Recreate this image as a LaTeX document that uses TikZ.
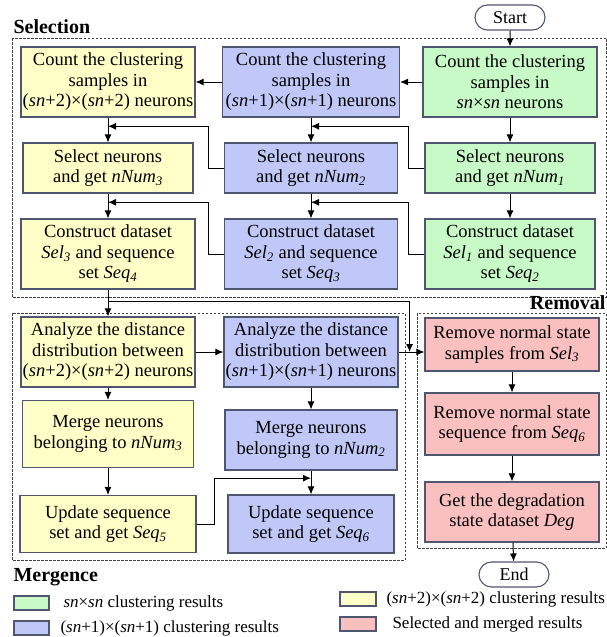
\documentclass[tikz,border=0pt]{standalone}
\usepackage{fontspec}
\setmainfont{Liberation Serif}
\usetikzlibrary{shapes,arrows.meta,calc}
\definecolor{ybox}{RGB}{255,255,200}
\definecolor{bbox}{RGB}{192,200,248}
\definecolor{gbox}{RGB}{200,250,200}
\definecolor{rbox}{RGB}{250,192,192}
\definecolor{boxline}{RGB}{80,86,112}
\tikzstyle{stage} = [draw=boxline, line width=1.1pt, align=center, minimum width=174pt, inner sep=1pt, font=\fontsize{18.5}{20.5}\selectfont]
\tikzstyle{tall} = [stage, minimum height=70pt]
\tikzstyle{short} = [stage, minimum height=50pt]
\tikzstyle{terminal} = [draw=boxline, line width=1.1pt, rounded rectangle, minimum width=72pt, minimum height=25pt, inner sep=1pt, font=\fontsize{18}{20}\selectfont]
\tikzstyle{phase} = [draw=black!75, dash pattern=on 2.5pt off 1.5pt, line width=0.7pt]
\tikzstyle{swatch} = [draw=boxline, line width=1.1pt]
\tikzstyle{caption} = [font=\fontsize{17}{19}\selectfont, anchor=west, inner sep=0pt]
\tikzstyle{heading} = [inner sep=0pt, font=\fontsize{20}{22}\selectfont\bfseries]
\newcommand{\ix}[1]{\textsubscript{\itshape #1}}

\begin{document}
\begin{tikzpicture}[x=1pt,y=-1pt,->,>={Latex[length=8pt,width=7pt]},line width=1pt,node distance=86pt]
\useasboundingbox (0,0) rectangle (607,637);

% phase frames
\draw[phase,-] (12,38) rectangle (606,297);
\draw[phase,-] (12,313) rectangle (405,560);
\draw[phase,-] (417,313) rectangle (606,548);
\node[heading, anchor=base west] (selname) at (13,33) {Selection};
\node[heading, anchor=base west] (mrgname) at (13,581) {Mergence};
\node[heading, anchor=base east] (remname) at (606,309) {Removal};

% selection
\node[terminal] (start) at (510,17.5) {Start};
\node[tall, fill=gbox] (g1) at (510,82) {Count the clustering\\samples in\\\textit{sn}×\textit{sn} neurons};
\node[tall, fill=bbox, left of=g1, node distance=199pt, minimum width=177pt] (b1) {Count the clustering\\samples in\\(\textit{sn}+1)×(\textit{sn}+1) neurons};
\node[tall, fill=ybox, left of=b1, node distance=203pt] (y1) {Count the clustering\\samples in\\(\textit{sn}+2)×(\textit{sn}+2) neurons};
\node[short, fill=gbox, below of=g1, minimum width=170pt] (g2) {Select neurons\\and get \textit{nNum}\ix{1}};
\node[short, fill=bbox, below of=b1, minimum width=173pt] (b2) {Select neurons\\and get \textit{nNum}\ix{2}};
\node[short, fill=ybox, below of=y1, minimum width=170pt] (y2) {Select neurons\\and get \textit{nNum}\ix{3}};
\node[tall, fill=gbox, below of=g2, minimum width=170pt] (g3) {Construct dataset\\\textit{Sel}\ix{1} and sequence\\set \textit{Seq}\ix{2}};
\node[tall, fill=bbox, below of=b2, minimum width=173pt] (b3) {Construct dataset\\\textit{Sel}\ix{2} and sequence\\set \textit{Seq}\ix{3}};
\node[tall, fill=ybox, below of=y2] (y3) {Construct dataset\\\textit{Sel}\ix{3} and sequence\\set \textit{Seq}\ix{4}};

% mergence
\node[tall, fill=ybox, below of=y3, node distance=98pt] (ya) {Analyze the distance\\distribution between\\(\textit{sn}+2)×(\textit{sn}+2) neurons};
\node[tall, fill=bbox, right of=ya, node distance=203pt] (ba) {Analyze the distance\\distribution between\\(\textit{sn}+1)×(\textit{sn}+1) neurons};
\node[stage, fill=ybox, below of=ya, node distance=82pt, minimum height=67pt, minimum width=171pt] (ym) {Merge neurons\\belonging to \textit{nNum}\ix{3}};
\node[stage, fill=bbox, below of=ba, node distance=88pt, minimum height=60pt, minimum width=172pt] (bm) {Merge neurons\\belonging to \textit{nNum}\ix{2}};
\node[stage, fill=ybox, below of=ym, node distance=90pt, minimum height=57pt, minimum width=176pt] (yu) {Update sequence\\set and get \textit{Seq}\ix{5}};
\node[stage, fill=bbox, below of=bm, node distance=84pt, minimum height=58pt, minimum width=166pt] (bu) {Update sequence\\set and get \textit{Seq}\ix{6}};

% removal
\node[stage, fill=rbox, minimum height=53pt] (r1) at (512,344.5) {Remove normal state\\samples from \textit{Sel}\ix{3}};
\node[stage, fill=rbox, minimum height=62pt, below of=r1, node distance=79.5pt] (r2) {Remove normal state\\sequence from \textit{Seq}\ix{6}};
\node[stage, fill=rbox, minimum height=60pt, below of=r2, node distance=88pt] (r3) {Get the degradation\\state dataset \textit{Deg}};
\node[terminal] (end) at (514,574.5) {End};

% connectors
\path
(start) edge (g1)
(g1) edge (b1)
(b1) edge (y1)
(g1) edge (g2)
(g2) edge (g3)
(b1) edge (b2)
(b2) edge (b3)
(y1) edge (y2)
(y2) edge (y3)
(y3) edge (ya)
(ya) edge (ym)
(ym) edge (yu)
(ba) edge (bm)
(bm) edge (bu)
(r1) edge (r2)
(r2) edge (r3)
(r3) edge (end);
\draw[->] (ya) -- (ba);
\draw[->] (g2.west) -- ++(-16,0) |- ($(b1.south)!0.35!(b2.north)$);
\draw[->] (b2.west) -- ++(-15,0) |- ($(y1.south)!0.35!(y2.north)$);
\draw[->] (g3.west) -- ++(-16,0) |- ($(b2.south)!0.35!(b3.north)$);
\draw[->] (b3.west) -- ++(-15,0) |- ($(y2.south)!0.35!(y3.north)$);
\draw[->] (yu.east) -- ++(18,0) |- ($(bm.south)!0.32!(bu.north)$);
\coordinate (join) at ($(ba.east)+(11,0)$);
\draw[->] ($(y3.south)!0.45!(ya.north)$) -| (join);
\draw[->] (ba.east) -- (ba.east -| r1.west);

% legend
\draw[swatch,-,fill=gbox] (14,596) rectangle (49,610);
\draw[swatch,-,fill=bbox] (14,621) rectangle (49,635);
\draw[swatch,-,fill=ybox] (340,592) rectangle (376,606);
\draw[swatch,-,fill=rbox] (340,617) rectangle (376,631);
\node[caption] (gcap) at (63,603.5) {\textit{sn}×\textit{sn} clustering results};
\node[caption] (bcap) at (60,628.5) {(\textit{sn}+1)×(\textit{sn}+1) clustering results};
\node[caption] (ycap) at (386,599) {(\textit{sn}+2)×(\textit{sn}+2) clustering results};
\node[caption] (rcap) at (392,624) {Selected and merged results};
\end{tikzpicture}
\end{document}
